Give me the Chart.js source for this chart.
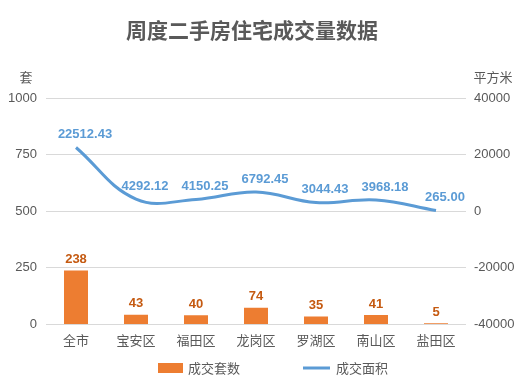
<!DOCTYPE html>
<html>
<head>
<meta charset="utf-8">
<script src="https://cdn.jsdelivr.net/npm/chart.js@4"></script>
<style>
  html, body { margin: 0; padding: 0; background: #fff; }
  #wrap { width: 528px; height: 389px; }
</style>
</head>
<body>
<div id="wrap"><canvas id="houseChart"></canvas></div>
<script>
const districts = ['全市', '宝安区', '福田区', '龙岗区', '罗湖区', '南山区', '盐田区'];
const dealCounts = [238, 43, 40, 74, 35, 41, 5];
const dealAreas = [22512.43, 4292.12, 4150.25, 6792.45, 3044.43, 3968.18, 265.00];
const leftTicks = [0, 250, 500, 750, 1000];
const rightTicks = [-40000, -20000, 0, 20000, 40000];

const FONT = "'Liberation Sans', 'Noto Sans CJK SC', sans-serif";
const CJK = "'Noto Sans CJK SC', sans-serif";

// title, unit labels, value labels and legend
const extras = {
  id: 'extras',
  afterDatasetsDraw(chart) {
    const ctx = chart.ctx;
    const ds = chart.data.datasets;
    ctx.save();
    ctx.textAlign = 'center';
    ctx.textBaseline = 'middle';

    ctx.fillStyle = '#595959';
    ctx.font = 'bold 21px ' + CJK;
    ctx.fillText('周度二手房住宅成交量数据', 252, 30);

    ctx.font = '13px ' + CJK;
    ctx.fillText('套', 26, 77);
    ctx.fillText('平方米', 493, 77);

    const barMeta = chart.getDatasetMeta(0);
    ctx.font = 'bold 13px ' + FONT;
    ctx.fillStyle = '#C55A11';
    barMeta.data.forEach((bar, i) => {
      ctx.fillText(String(dealCounts[i]), bar.x, bar.y - 11);
    });

    const lineMeta = chart.getDatasetMeta(1);
    ctx.fillStyle = '#5B9BD5';
    lineMeta.data.forEach((pt, i) => {
      ctx.fillText(dealAreas[i].toFixed(2), pt.x + 9, pt.y - 13);
    });

    // legend
    const ly = 368;
    ctx.textAlign = 'left';
    ctx.font = '13px ' + CJK;
    ctx.fillStyle = ds[0].backgroundColor;
    ctx.fillRect(158, ly - 5, 25, 10);
    ctx.fillStyle = '#595959';
    ctx.fillText(ds[0].label, 188, ly);
    ctx.strokeStyle = ds[1].borderColor;
    ctx.lineWidth = 3;
    ctx.beginPath();
    ctx.moveTo(303, ly);
    ctx.lineTo(330, ly);
    ctx.stroke();
    ctx.fillText(ds[1].label, 336, ly);
    ctx.restore();
  }
};

new Chart(document.getElementById('houseChart'), {
  type: 'bar',
  data: {
    labels: districts,
    datasets: [
      {
        label: '成交套数',
        data: dealCounts,
        backgroundColor: '#ED7D31',
        yAxisID: 'y',
        order: 2,
        barPercentage: 0.8,
        categoryPercentage: 0.5
      },
      {
        type: 'line',
        label: '成交面积',
        data: dealAreas,
        borderColor: '#5B9BD5',
        backgroundColor: '#5B9BD5',
        borderWidth: 3,
        tension: 0.4,
        pointRadius: 0,
        yAxisID: 'y1',
        order: 1
      }
    ]
  },
  options: {
    responsive: true,
    maintainAspectRatio: false,
    animation: false,
    layout: { padding: { top: 98, bottom: 41, left: 0, right: 0 } },
    plugins: {
      title: { display: false },
      tooltip: { enabled: false },
      legend: { display: false }
    },
    scales: {
      x: {
        grid: { display: false },
        border: { display: false },
        ticks: { color: '#595959', font: { family: CJK, size: 13 }, padding: 0 }
      },
      y: {
        position: 'left',
        min: 0,
        max: 1000,
        afterBuildTicks(scale) { scale.ticks = leftTicks.map(v => ({ value: v })); },
        afterFit(scale) { scale.width = 46; },
        grid: { color: '#D9D9D9', drawTicks: false },
        border: { display: false },
        ticks: { color: '#595959', font: { family: FONT, size: 13 }, padding: 9, callback: v => String(v) }
      },
      y1: {
        position: 'right',
        min: -40000,
        max: 40000,
        afterBuildTicks(scale) { scale.ticks = rightTicks.map(v => ({ value: v })); },
        afterFit(scale) { scale.width = 62; },
        grid: { display: false },
        border: { display: false },
        ticks: { color: '#595959', font: { family: FONT, size: 13 }, padding: 0, callback: v => String(v) }
      }
    }
  },
  plugins: [extras]
});
</script>
</body>
</html>
